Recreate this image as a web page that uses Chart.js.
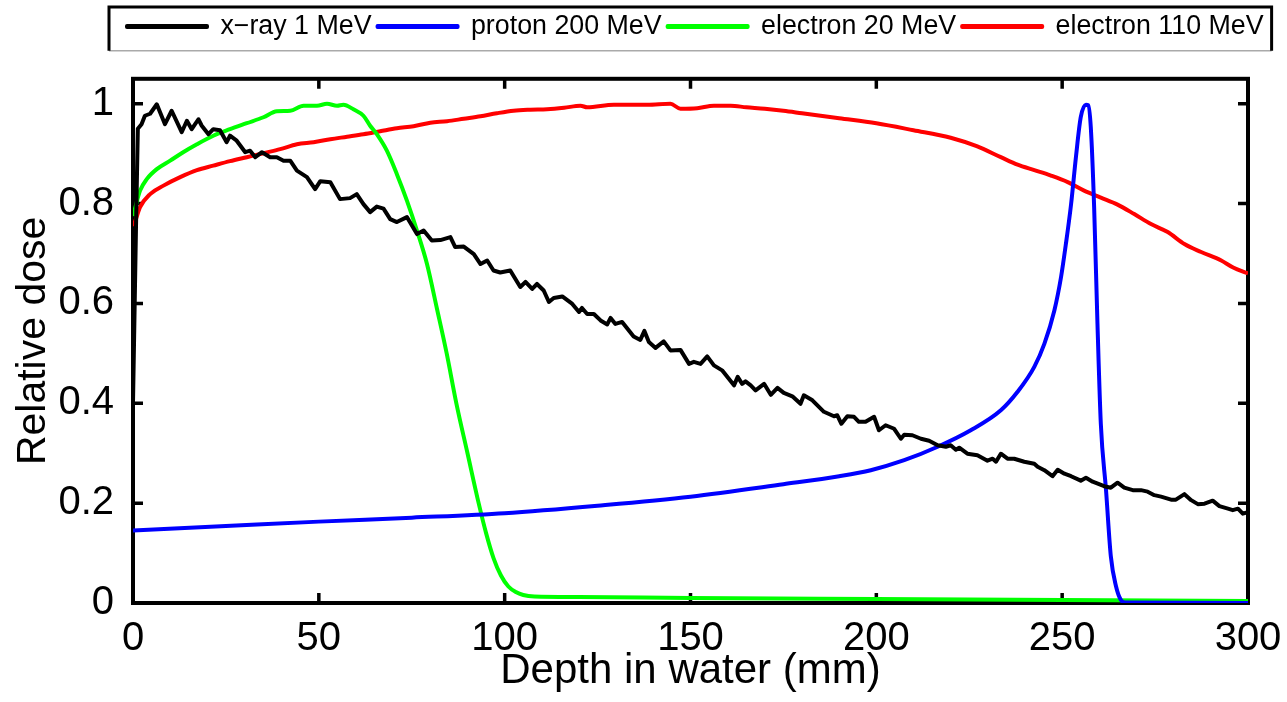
<!DOCTYPE html>
<html>
<head>
<meta charset="utf-8">
<script src="https://cdn.jsdelivr.net/npm/chart.js@4.4.1/dist/chart.umd.min.js"></script>
<style>
  html, body { margin: 0; padding: 0; background: #fff; }
</style>
</head>
<body>
<canvas id="myChart" width="1287" height="702"></canvas>
<script>
// depth (mm) and relative dose
var xrayDepth = [0, 0.8, 1.3, 2.3, 3.2, 4.6, 6.4, 8.6, 10.4, 13.1, 14.5, 15.8, 17.6, 18.5, 20.3, 21.6, 23.4, 25.2, 26.1, 27.9,
  30.2, 31.5, 32.9, 34.7, 36.9, 38.7, 40.5, 42.3, 44.1, 46.8, 49.0, 50.4, 53.1, 55.7, 58.4, 60.2, 62.0, 63.8, 65.6, 67.4,
  69.2, 71.0, 73.7, 76.4, 78.2, 80.4, 82.7, 85.4, 86.7, 89.0, 91.7, 93.5, 95.3, 97.0, 98.8, 101.5, 104.2, 105.6, 107.4, 108.7,
  110.5, 111.9, 113.2, 115.5, 118.2, 120.0, 120.8, 122.2, 124.0, 125.8, 127.6, 128.5, 129.8, 131.6, 134.7, 136.5, 137.6, 138.8, 140.6, 142.8,
  144.6, 147.3, 149.6, 150.9, 152.7, 154.5, 156.3, 158.5, 161.7, 162.7, 163.9, 164.8, 166.2, 167.5, 169.8, 171.6, 173.4, 175.1, 177.4, 179.6,
  180.5, 182.8, 185.9, 188.6, 189.5, 190.6, 192.2, 194.0, 195.3, 197.1, 199.4, 200.7, 202.5, 204.8, 206.6, 207.5, 209.7, 212.0, 214.2, 216.5,
  218.7, 220.0, 221.4, 222.3, 224.5, 227.2, 229.9, 231.3, 232.2, 233.5, 235.3, 237.1, 239.8, 242.5, 243.4, 245.2, 247.4, 248.8, 250.6, 252.4,
  255.0, 256.4, 258.2, 261.3, 263.1, 264.9, 266.7, 269.0, 271.2, 273.0, 274.8, 276.6, 279.3, 280.6, 282.9, 284.7, 286.5, 288.3, 290.5, 292.3,
  294.6, 295.9, 297.3, 298.6, 300];
var xrayDose = [0.40, 0.75, 0.95, 0.959, 0.976, 0.98, 0.999, 0.959, 0.986, 0.943, 0.966, 0.949, 0.969, 0.956, 0.939, 0.949, 0.947, 0.923, 0.936, 0.926,
  0.903, 0.906, 0.893, 0.903, 0.893, 0.893, 0.886, 0.886, 0.866, 0.853, 0.829, 0.845, 0.843, 0.809, 0.811, 0.819, 0.799, 0.783, 0.794, 0.79,
  0.769, 0.763, 0.773, 0.739, 0.746, 0.726, 0.727, 0.733, 0.713, 0.714, 0.699, 0.679, 0.686, 0.666, 0.662, 0.666, 0.633, 0.643, 0.629, 0.639,
  0.626, 0.603, 0.611, 0.614, 0.599, 0.583, 0.591, 0.579, 0.579, 0.566, 0.558, 0.571, 0.559, 0.563, 0.534, 0.527, 0.545, 0.523, 0.511, 0.524,
  0.506, 0.507, 0.479, 0.483, 0.479, 0.494, 0.476, 0.466, 0.436, 0.453, 0.439, 0.444, 0.436, 0.426, 0.439, 0.417, 0.431, 0.421, 0.414, 0.399,
  0.416, 0.406, 0.383, 0.374, 0.376, 0.359, 0.374, 0.373, 0.363, 0.363, 0.373, 0.346, 0.356, 0.349, 0.329, 0.337, 0.336, 0.329, 0.325, 0.316,
  0.313, 0.316, 0.307, 0.311, 0.299, 0.296, 0.285, 0.289, 0.283, 0.299, 0.289, 0.289, 0.283, 0.279, 0.273, 0.266, 0.254, 0.267, 0.259, 0.254,
  0.245, 0.251, 0.243, 0.234, 0.231, 0.241, 0.231, 0.226, 0.226, 0.223, 0.216, 0.213, 0.207, 0.207, 0.218, 0.206, 0.198, 0.199, 0.205, 0.194,
  0.189, 0.186, 0.189, 0.179, 0.182];

var protonDepth = [0, 25, 50, 75, 100, 125, 150, 175, 190, 198.5, 207.5, 216.5, 225.4, 233.5, 238.0, 242.5, 245.2, 247.9, 249.7, 251.0,
  252.4, 253.7, 255.0, 256.4, 257.0, 257.7, 258.6, 259.5, 260.4, 261.8, 263.1, 264.5, 265.8, 267, 300];
var protonDose = [0.145, 0.154, 0.163, 0.171, 0.180, 0.195, 0.213, 0.238, 0.254, 0.266, 0.286, 0.313, 0.346, 0.386, 0.423, 0.473, 0.519, 0.586, 0.653, 0.719,
  0.799, 0.893, 0.973, 0.998, 0.997, 0.953, 0.793, 0.559, 0.359, 0.226, 0.093, 0.033, 0.006, 0.001, 0];

var e20Depth = [0, 0.5, 1.9, 3.7, 6.4, 10.0, 13.5, 17.2, 21.6, 26.1, 30.6, 35.1, 38.7, 42.3, 45.9, 49.5, 52.2, 54.9, 56.6, 59.3,
  62.0, 63.8, 65.6, 68.3, 71.0, 73.7, 76.4, 79.1, 81.8, 84.4, 87.0, 90.0, 93.0, 95.0, 97.0, 99.0, 101, 103, 105, 108,
  120, 150, 200, 250, 300];
var e20Dose = [0.775, 0.789, 0.826, 0.849, 0.869, 0.886, 0.903, 0.919, 0.936, 0.949, 0.961, 0.973, 0.985, 0.986, 0.996, 0.996, 1.0, 0.996, 0.998, 0.989,
  0.976, 0.956, 0.939, 0.906, 0.859, 0.806, 0.746, 0.679, 0.589, 0.5, 0.4, 0.3, 0.2, 0.14, 0.09, 0.055, 0.033, 0.022, 0.016, 0.013,
  0.012, 0.010, 0.008, 0.006, 0.004];

var e110Depth = [0, 0.5, 1.9, 4.6, 8.2, 12.7, 17.2, 21.6, 26.1, 30.6, 35.1, 39.6, 44.1, 48.6, 53.1, 57.6, 62.0, 66.5, 71.0, 75.5,
  80.0, 84.5, 89.0, 93.5, 97.9, 102.4, 106.9, 111.4, 116, 120.4, 122.2, 129.4, 138.4, 144.6, 147.3, 151.8, 156.3, 160.8, 165, 170,
  175, 180, 190, 200, 210, 220, 227, 233.5, 238.0, 242.5, 247.0, 251.5, 255.9, 260.4, 264.9, 269.4, 273.9, 278.4, 282.9, 287.4,
  292.8, 296, 300];
var e110Dose = [0.755, 0.763, 0.793, 0.819, 0.836, 0.853, 0.867, 0.876, 0.885, 0.893, 0.901, 0.909, 0.919, 0.923, 0.929, 0.934, 0.939, 0.945, 0.951, 0.955,
  0.962, 0.965, 0.970, 0.975, 0.981, 0.986, 0.988, 0.989, 0.992, 0.996, 0.993, 0.998, 0.998, 1.0, 0.99, 0.991, 0.996, 0.996, 0.993, 0.99,
  0.986, 0.981, 0.971, 0.961, 0.947, 0.932, 0.915, 0.893, 0.878, 0.867, 0.856, 0.843, 0.826, 0.812, 0.798, 0.779, 0.759, 0.743, 0.719, 0.703,
  0.686, 0.672, 0.660];

var xTicks = [0, 50, 100, 150, 200, 250, 300];
var yTicks = [0, 0.2, 0.4, 0.6, 0.8, 1];

function pts(xs, ys) {
  return xs.map(function (x, i) { return { x: x, y: ys[i] }; });
}

var FONT = 'Liberation Sans, Arial, Helvetica, sans-serif';
var TICK_LEN = 10;

// box round the axes with inward ticks, plus a frame round the legend
var framePlugin = {
  id: 'frame',
  afterLayout: function (chart) {
    var lg = chart.legend;
    var h = lg.bottom - lg.top;
    lg.top = 7; lg.bottom = 7 + h;
    var dx = 121 - lg.left;
    lg.left += dx; lg.right += dx;
  },
  beforeDatasetsDraw: function (chart) {
    var ctx = chart.ctx, a = chart.chartArea;
    var xs = chart.scales.x, ys = chart.scales.y;
    ctx.save();
    ctx.strokeStyle = '#000';
    ctx.lineWidth = 4;
    ctx.strokeRect(a.left, a.top, a.right - a.left, a.bottom - a.top);
    ctx.lineWidth = 3.5;
    ctx.beginPath();
    xTicks.forEach(function (v) {
      var px = xs.getPixelForValue(v);
      ctx.moveTo(px, a.bottom); ctx.lineTo(px, a.bottom - TICK_LEN);
      ctx.moveTo(px, a.top); ctx.lineTo(px, a.top + TICK_LEN);
    });
    yTicks.forEach(function (v) {
      var py = ys.getPixelForValue(v);
      ctx.moveTo(a.left, py); ctx.lineTo(a.left + TICK_LEN, py);
      ctx.moveTo(a.right, py); ctx.lineTo(a.right - TICK_LEN, py);
    });
    ctx.stroke();
    ctx.restore();
  },
  afterDraw: function (chart) {
    var lg = chart.legend, ctx = chart.ctx;
    var pad = lg.options.labels.padding;
    var start = lg.left + pad;
    var end = start + lg.lineWidths[0] - pad;
    var x0 = start - 18, x1 = end + 8, y0 = lg.top, y1 = lg.bottom + 1;
    ctx.save();
    ctx.strokeStyle = '#aaa';
    ctx.lineWidth = 1.5;
    ctx.beginPath(); ctx.moveTo(x0, y1); ctx.lineTo(x1, y1); ctx.stroke();
    ctx.strokeStyle = '#000';
    ctx.lineWidth = 3;
    ctx.beginPath();
    ctx.moveTo(x0, y1); ctx.lineTo(x0, y0); ctx.lineTo(x1, y0); ctx.lineTo(x1, y1);
    ctx.stroke();
    ctx.restore();
  }
};

var ctx = document.getElementById('myChart').getContext('2d');
new Chart(ctx, {
  type: 'line',
  data: {
    datasets: [
      { label: 'x\u2212ray 1 MeV', data: pts(xrayDepth, xrayDose), borderColor: '#000000', backgroundColor: '#000000' },
      { label: 'proton 200 MeV', data: pts(protonDepth, protonDose), borderColor: '#0000ff', backgroundColor: '#0000ff', cubicInterpolationMode: 'monotone' },
      { label: 'electron 20 MeV', data: pts(e20Depth, e20Dose), borderColor: '#00ff00', backgroundColor: '#00ff00', cubicInterpolationMode: 'monotone' },
      { label: 'electron 110 MeV', data: pts(e110Depth, e110Dose), borderColor: '#ff0000', backgroundColor: '#ff0000', cubicInterpolationMode: 'monotone' }
    ]
  },
  options: {
    responsive: false,
    animation: false,
    devicePixelRatio: 1,
    layout: { padding: { top: 36, left: 0, right: 39, bottom: 0 } },
    elements: {
      line: { borderWidth: 4, tension: 0, fill: false, borderJoinStyle: 'round' },
      point: { radius: 0 }
    },
    plugins: {
      legend: {
        position: 'top',
        align: 'start',
        labels: {
          boxWidth: 80,
          boxHeight: 1,
          padding: 6,
          color: '#000',
          font: { family: FONT, size: 26.8 }
        }
      },
      tooltip: { enabled: false }
    },
    scales: {
      x: {
        type: 'linear',
        min: 0,
        max: 300,
        grid: { display: false },
        border: { display: false },
        afterFit: function (s) { s.height = 99; },
        afterBuildTicks: function (s) { s.ticks = xTicks.map(function (v) { return { value: v }; }); },
        ticks: { padding: 4, color: '#000', maxRotation: 0, font: { family: FONT, size: 40 } },
        title: { display: true, text: 'Depth in water (mm)', color: '#000', padding: { top: 0, bottom: 5 }, font: { family: FONT, size: 42 } }
      },
      y: {
        type: 'linear',
        min: 0,
        max: 1.05,
        grid: { display: false },
        border: { display: false },
        afterFit: function (s) { s.width = 133; },
        afterBuildTicks: function (s) { s.ticks = yTicks.map(function (v) { return { value: v }; }); },
        ticks: {
          padding: 11,
          color: '#000',
          font: { family: FONT, size: 40 },
          callback: function (v) { return String(Math.round(v * 10) / 10); }
        },
        title: { display: true, text: 'Relative dose', color: '#000', padding: { top: 9, bottom: 0 }, font: { family: FONT, size: 41 } }
      }
    }
  },
  plugins: [framePlugin]
});
</script>
</body>
</html>
